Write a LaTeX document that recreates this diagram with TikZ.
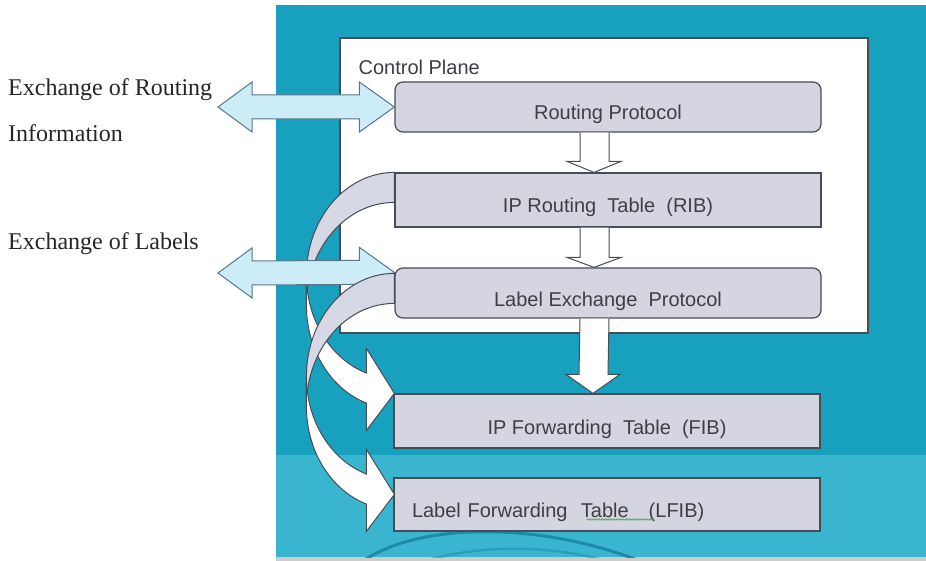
\documentclass[tikz,border=0pt]{standalone}
\usepackage{fontspec}
\setmainfont{Liberation Serif}
\setsansfont{Liberation Sans}
\usepackage{tikz}
\usetikzlibrary{calc,decorations.pathmorphing}
\usepackage{xcolor}
\definecolor{teal1}{RGB}{24,161,191}
\definecolor{teal2}{RGB}{58,181,207}
\definecolor{tealarc}{RGB}{28,138,168}
\definecolor{boxfill}{RGB}{212,213,225}
\definecolor{edge}{RGB}{72,76,84}
\definecolor{txt}{RGB}{62,62,68}
\definecolor{xfill}{RGB}{204,237,248}
\definecolor{xedge}{RGB}{88,120,136}
\definecolor{back}{RGB}{214,216,230}
\definecolor{spell}{RGB}{60,170,60}
\tikzset{
  mbox/.style={draw=edge,fill=boxfill,line width=1.2pt,minimum width=426pt,inner sep=0pt,
    text height=26pt,text depth=0pt,text=txt,font=\sffamily\fontsize{20}{24}\selectfont},
  mrbox/.style={mbox,rounded corners=8pt},
  mplane/.style={draw=edge,fill=white,line width=1.2pt,inner sep=0pt},
  mdown/.style={draw=edge,fill=white,line width=1pt},
  mswap/.style={draw=xedge,fill=xfill,line width=1pt},
  mback/.style={draw=edge,fill=back,line width=1pt},
  mfront/.style={draw=edge,fill=white,line width=1pt},
  mside/.style={anchor=base west,inner sep=0pt,text=black!85,font=\fontsize{24}{28}\selectfont},
}
% bent arrow, local coordinates: (0,0) is the top of its band
\newcommand{\bentarrow}{%
  \filldraw[mback] plot[domain=270:180,samples=40] ({88*cos(\x)},{103+103*sin(\x)})
    -- plot[domain=180:270,samples=40] ({88*cos(\x)},{133+103*sin(\x)}) -- cycle;
  \filldraw[mfront] plot[domain=180:108.55,samples=40] ({88*cos(\x)},{103+103*sin(\x)})
    -- (-28,176) -- (0,221) -- (-28,258)
    -- plot[domain=108.55:180,samples=40] ({88*cos(\x)},{133+103*sin(\x)}) -- cycle;}

\begin{document}
\begin{tikzpicture}[x=1pt,y=-1pt]
  \useasboundingbox (0,0) rectangle (926,561);
  \fill[teal1] (276,5) rectangle (926,455);
  \fill[teal2] (276,455) rectangle (926,557);
  \fill[black!20] (276,557) rectangle (926,561);
  \begin{scope}
    \clip (276,5) rectangle (926,557);
    \draw[tealarc,line width=3pt] (363,561) .. controls (420,522) and (540,522) .. (640,561);
    \draw[tealarc,line width=2.5pt,opacity=.5] (410,566) .. controls (470,543) and (560,543) .. (620,566);
  \end{scope}
  \node[mplane,minimum width=528pt,minimum height=295pt] (cp) at (604,185.5) {};
  \node[anchor=base west,inner sep=0pt,text=txt,font=\sffamily\fontsize{20}{24}\selectfont] (cpl)
    at ($(cp.north west)+(19,37)$) {Control Plane};
  \node[mrbox,minimum height=50pt] (rp) at (608,107) {Routing Protocol};
  \node[mbox,minimum height=54pt] (rib) at (608,200) {IP Routing\ \ Table\ \ (RIB)};
  \node[mrbox,minimum height=50pt] (lep) at (608,293) {Label Exchange\ \ Protocol};
  \node[mbox,minimum height=54pt] (fib) at (607,421) {IP Forwarding\ \ Table\ \ (FIB)};
  \node[mbox,minimum height=53pt,text width=390pt,align=left,inner xsep=18pt] (lfib)
    at (607,504.5) {Label Forwarding\ \ Table\ \ \ (LFIB)};
  \draw[spell,line width=0.6pt,decorate,decoration={snake,amplitude=0.8pt,segment length=3pt}]
    ($(lfib.west)+(193,15)$) -- ++(68,0);
  \foreach \p/\q/\hd in {rp/rib/11,rib/lep/10,lep/fib/19}
    \filldraw[mdown] ($(\p.south)+(-28,0)$) -- ($(\q.north)+(-28,-\hd)$) -- ++(-13,0)
      -- ($(\q.north)+(-14,0)$) -- ($(\q.north)+(13,-\hd)$) -- ++(-12,0) -- ($(\p.south)+(1,0)$);
  \begin{scope}[shift={(rib.north west)}]
    \bentarrow
  \end{scope}
  \node[mside] (xr1) at (8,96) {Exchange of Routing};
  \node[mside] (xr2) at (8,142) {Information};
  \node[mside] (xl) at (8,250) {Exchange of Labels};
  \coordinate (rin) at (218,107);
  \coordinate (lin) at (218,273);
  \coordinate (lpt) at ($(lep.north west)+(0,5)$);
  \foreach \s/\e in {rin/rp.west,lin/lpt}
    \filldraw[mswap] (\s) -- ++(34,-25) -- ++(0,13) -- ($(\e)+(-35,-12)$) -- ++(0,-13)
      -- (\e) -- ++(-35,25) -- ++(0,-13) -- ($(\s)+(34,12)$) -- ++(0,13) -- cycle;
  \begin{scope}[shift={($(lep.north west)+(0,6)$)}]
    \bentarrow
  \end{scope}
\end{tikzpicture}
\end{document}
